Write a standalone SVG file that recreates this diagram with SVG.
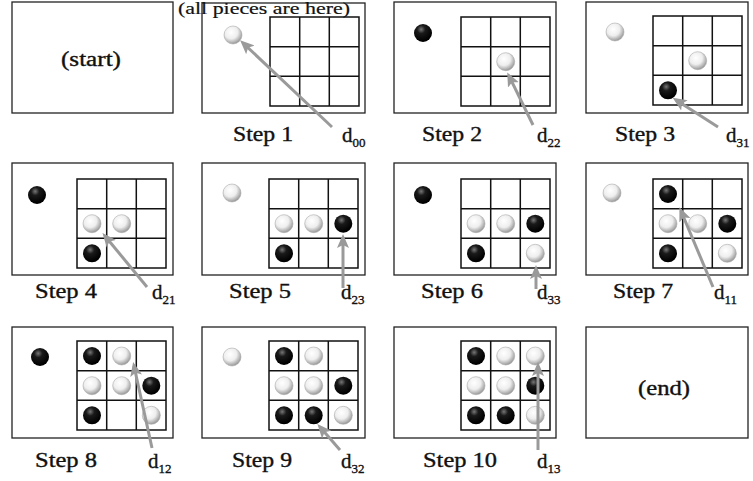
<svg xmlns="http://www.w3.org/2000/svg" xmlns:xlink="http://www.w3.org/1999/xlink" width="753" height="481" viewBox="0 0 753 481">
<style>
.panel{fill:#fff;stroke:#222;stroke-width:1.3}
.gl{fill:none;stroke:#111;stroke-width:1.5}
.lbl{font-family:"Liberation Serif","Times New Roman",serif;font-size:20px;fill:#111;stroke:#111;stroke-width:0.35}
.d{font-size:21px}
.sub{font-size:13px}
.arr{stroke:#9a9a9a;stroke-width:3;fill:none;marker-end:url(#ah)}
</style>
<defs>
<radialGradient id="gw" cx="0.4" cy="0.35" r="0.65">
<stop offset="0" stop-color="#ffffff"/>
<stop offset="0.55" stop-color="#eeeeee"/>
<stop offset="1" stop-color="#9a9a9a"/>
</radialGradient>
<radialGradient id="gb" cx="0.4" cy="0.3" r="0.65">
<stop offset="0" stop-color="#777"/>
<stop offset="0.35" stop-color="#1a1a1a"/>
<stop offset="1" stop-color="#000"/>
</radialGradient>
<circle id="w" r="9" fill="url(#gw)" stroke="#aaa" stroke-width="0.6"/>
<circle id="b" r="9" fill="url(#gb)"/>
<g id="grid">
<rect class="gl" x="0" y="0" width="89" height="89"/>
<path class="gl" d="M29.7 0V89M59.3 0V89M0 29.7H89M0 59.3H89"/>
</g>
<marker id="ah" markerUnits="userSpaceOnUse" markerWidth="14" markerHeight="13" refX="10" refY="6.5" orient="auto">
<path d="M0 0.5L14 6.5L0 12.5L3 6.5Z" fill="#9a9a9a"/>
</marker>
</defs>

<g id="start">
<rect class="panel" x="12" y="2" width="161" height="111"/>
<text class="lbl" x="91" y="66" text-anchor="middle" textLength="60" lengthAdjust="spacingAndGlyphs">(start)</text>
</g>

<g id="step1">
<rect class="panel" x="202" y="3" width="163" height="110"/>
<text class="lbl" x="264" y="14" text-anchor="middle" textLength="172" lengthAdjust="spacingAndGlyphs" style="font-size:17px;stroke-width:0.2">(all pieces are here)</text>
<use xlink:href="#grid" x="270" y="17"/>
<use xlink:href="#w" x="233" y="35"/>
<text class="lbl" x="263" y="141" text-anchor="middle" textLength="60" lengthAdjust="spacingAndGlyphs">Step 1</text>
<text class="lbl d" x="342" y="142">d<tspan class="sub" dy="5">00</tspan></text>
</g>

<g id="step2">
<rect class="panel" x="394" y="2" width="162" height="111"/>
<use xlink:href="#grid" x="461" y="17"/>
<use xlink:href="#b" x="423" y="33"/>
<use xlink:href="#w" x="505.7" y="61.7"/>
<text class="lbl" x="452" y="141" text-anchor="middle" textLength="60" lengthAdjust="spacingAndGlyphs">Step 2</text>
<text class="lbl d" x="537" y="142">d<tspan class="sub" dy="5">22</tspan></text>
</g>

<g id="step3">
<rect class="panel" x="586" y="2" width="162" height="111"/>
<use xlink:href="#grid" x="653" y="16"/>
<use xlink:href="#w" x="615" y="32"/>
<use xlink:href="#w" x="697.7" y="60.7"/>
<use xlink:href="#b" x="668" y="90.3"/>
<text class="lbl" x="645" y="141" text-anchor="middle" textLength="60" lengthAdjust="spacingAndGlyphs">Step 3</text>
<text class="lbl d" x="726" y="142">d<tspan class="sub" dy="5">31</tspan></text>
</g>

<g id="step4">
<rect class="panel" x="12" y="163" width="161" height="112"/>
<use xlink:href="#grid" x="77" y="179"/>
<use xlink:href="#b" x="37" y="195"/>
<use xlink:href="#w" x="92" y="223.7"/>
<use xlink:href="#w" x="121.7" y="223.7"/>
<use xlink:href="#b" x="92" y="253.3"/>
<text class="lbl" x="66" y="298" text-anchor="middle" textLength="62" lengthAdjust="spacingAndGlyphs">Step 4</text>
<text class="lbl d" x="152" y="299">d<tspan class="sub" dy="5">21</tspan></text>
</g>

<g id="step5">
<rect class="panel" x="202" y="163" width="163" height="112"/>
<use xlink:href="#grid" x="269" y="179"/>
<use xlink:href="#w" x="232" y="193"/>
<use xlink:href="#w" x="284" y="223.7"/>
<use xlink:href="#w" x="313.7" y="223.7"/>
<use xlink:href="#b" x="343.3" y="223.7"/>
<use xlink:href="#b" x="284" y="253.3"/>
<text class="lbl" x="260" y="298" text-anchor="middle" textLength="62" lengthAdjust="spacingAndGlyphs">Step 5</text>
<text class="lbl d" x="341" y="299">d<tspan class="sub" dy="5">23</tspan></text>
</g>

<g id="step6">
<rect class="panel" x="394" y="163" width="162" height="112"/>
<use xlink:href="#grid" x="461" y="179"/>
<use xlink:href="#b" x="423" y="195"/>
<use xlink:href="#w" x="476" y="223.7"/>
<use xlink:href="#w" x="505.7" y="223.7"/>
<use xlink:href="#b" x="535.3" y="223.7"/>
<use xlink:href="#b" x="476" y="253.3"/>
<use xlink:href="#w" x="535.3" y="253.3"/>
<text class="lbl" x="452" y="298" text-anchor="middle" textLength="62" lengthAdjust="spacingAndGlyphs">Step 6</text>
<text class="lbl d" x="537" y="299">d<tspan class="sub" dy="5">33</tspan></text>
</g>

<g id="step7">
<rect class="panel" x="586" y="163" width="162" height="112"/>
<use xlink:href="#grid" x="653" y="179"/>
<use xlink:href="#w" x="612" y="193"/>
<use xlink:href="#b" x="668" y="194"/>
<use xlink:href="#w" x="668" y="223.7"/>
<use xlink:href="#w" x="697.7" y="223.7"/>
<use xlink:href="#b" x="727.3" y="223.7"/>
<use xlink:href="#b" x="668" y="253.3"/>
<use xlink:href="#w" x="727.3" y="253.3"/>
<text class="lbl" x="643" y="298" text-anchor="middle" textLength="60" lengthAdjust="spacingAndGlyphs">Step 7</text>
<text class="lbl d" x="714" y="299">d<tspan class="sub" dy="5">11</tspan></text>
</g>

<g id="step8">
<rect class="panel" x="12" y="327" width="161" height="111"/>
<use xlink:href="#grid" x="77" y="341"/>
<use xlink:href="#b" x="40" y="357"/>
<use xlink:href="#b" x="92" y="356"/>
<use xlink:href="#w" x="121.7" y="356"/>
<use xlink:href="#w" x="92" y="385.7"/>
<use xlink:href="#w" x="121.7" y="385.7"/>
<use xlink:href="#b" x="151.3" y="385.7"/>
<use xlink:href="#b" x="92" y="415.3"/>
<use xlink:href="#w" x="151.3" y="415.3"/>
<text class="lbl" x="66" y="467" text-anchor="middle" textLength="62" lengthAdjust="spacingAndGlyphs">Step 8</text>
<text class="lbl d" x="148" y="468">d<tspan class="sub" dy="5">12</tspan></text>
</g>

<g id="step9">
<rect class="panel" x="202" y="327" width="163" height="111"/>
<use xlink:href="#grid" x="269" y="341"/>
<use xlink:href="#w" x="232" y="357"/>
<use xlink:href="#b" x="284" y="356"/>
<use xlink:href="#w" x="313.7" y="356"/>
<use xlink:href="#w" x="284" y="385.7"/>
<use xlink:href="#w" x="313.7" y="385.7"/>
<use xlink:href="#b" x="343.3" y="385.7"/>
<use xlink:href="#b" x="284" y="415.3"/>
<use xlink:href="#b" x="313.7" y="415.3"/>
<use xlink:href="#w" x="343.3" y="415.3"/>
<text class="lbl" x="262" y="467" text-anchor="middle" textLength="60" lengthAdjust="spacingAndGlyphs">Step 9</text>
<text class="lbl d" x="341" y="468">d<tspan class="sub" dy="5">32</tspan></text>
</g>

<g id="step10">
<rect class="panel" x="394" y="327" width="162" height="111"/>
<use xlink:href="#grid" x="461" y="341"/>
<use xlink:href="#b" x="476" y="356"/>
<use xlink:href="#w" x="505.7" y="356"/>
<use xlink:href="#w" x="535.3" y="356"/>
<use xlink:href="#w" x="476" y="385.7"/>
<use xlink:href="#w" x="505.7" y="385.7"/>
<use xlink:href="#b" x="535.3" y="385.7"/>
<use xlink:href="#b" x="476" y="415.3"/>
<use xlink:href="#b" x="505.7" y="415.3"/>
<use xlink:href="#w" x="535.3" y="415.3"/>
<text class="lbl" x="460" y="467" text-anchor="middle" textLength="74" lengthAdjust="spacingAndGlyphs">Step 10</text>
<text class="lbl d" x="537" y="468">d<tspan class="sub" dy="5">13</tspan></text>
</g>

<g id="end">
<rect class="panel" x="586" y="327" width="162" height="111"/>
<text class="lbl" x="664" y="395" text-anchor="middle" textLength="52" lengthAdjust="spacingAndGlyphs">(end)</text>
</g>

<g id="connectors">
<line class="arr" x1="332" y1="127" x2="243" y2="43"/>
<line class="arr" x1="533" y1="125" x2="509" y2="76"/>
<line class="arr" x1="718" y1="127" x2="676" y2="100"/>
<line class="arr" x1="147" y1="287" x2="105" y2="236"/>
<line class="arr" x1="343" y1="288" x2="343" y2="238"/>
<line class="arr" x1="536" y1="289" x2="536" y2="269"/>
<line class="arr" x1="713" y1="287" x2="681" y2="211"/>
<line class="arr" x1="152" y1="448" x2="134" y2="366"/>
<line class="arr" x1="340" y1="450" x2="320" y2="427"/>
<line class="arr" x1="538" y1="450" x2="538" y2="366"/>
</g>
</svg>
